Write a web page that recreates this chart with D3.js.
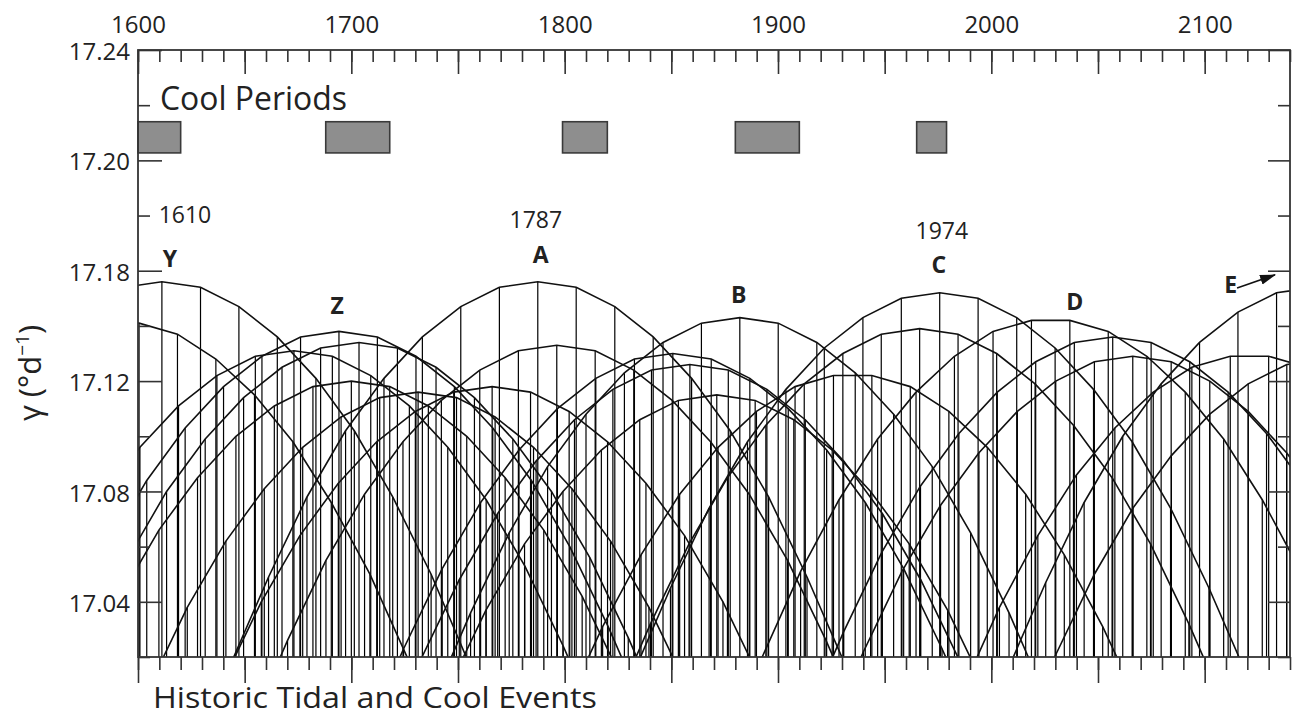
<!DOCTYPE html>
<html>
<head>
<meta charset="utf-8">
<script src="https://cdn.jsdelivr.net/npm/d3@7"></script>
<style>
    body { margin: 0; background: #fff; }
    svg { display: block; }
    text { font-family: "Open Sans", "DejaVu Sans", sans-serif; fill: #222; }
</style>
</head>
<body>
<div id="chart"></div>
<script>
// each arc: [year, gamma] at the 18.03-yr events
const arcY = [[1593.2,17.154],[1611.2,17.156],[1629.3,17.154],[1647.3,17.147],[1665.3,17.136],[1683.4,17.121],[1701.4,17.102],[1719.4,17.078],[1737.4,17.050],[1755.5,17.017],[1773.5,16.980]];
const arcY2 = [[1582.4,17.141],[1600.5,17.141],[1618.5,17.137],[1636.5,17.128],[1654.6,17.115],[1672.6,17.098],[1690.6,17.076],[1708.7,17.050],[1726.7,17.019],[1744.7,16.985]];
const arcZ = [[1586.0,17.060],[1604.1,17.084],[1622.1,17.103],[1640.1,17.118],[1658.1,17.129],[1676.2,17.136],[1694.2,17.138],[1712.2,17.136],[1730.3,17.129],[1748.3,17.118],[1766.3,17.103],[1784.4,17.084],[1802.4,17.060],[1820.4,17.031],[1838.5,16.999]];
const arcP4 = [[1582.9,17.077],[1600.9,17.096],[1619.0,17.111],[1637.0,17.122],[1655.0,17.129],[1673.1,17.131],[1691.1,17.129],[1709.1,17.122],[1727.2,17.111],[1745.2,17.096],[1763.2,17.077],[1781.3,17.053],[1799.3,17.024],[1817.3,16.992]];
const arcP5 = [[1595.4,17.056],[1613.4,17.080],[1631.5,17.099],[1649.5,17.114],[1667.5,17.125],[1685.6,17.132],[1703.6,17.134],[1721.6,17.132],[1739.7,17.125],[1757.7,17.114],[1775.7,17.099],[1793.8,17.080],[1811.8,17.056],[1829.8,17.027],[1847.8,16.995]];
const arcL1 = [[1591.8,17.042],[1609.8,17.066],[1627.9,17.085],[1645.9,17.100],[1663.9,17.111],[1682.0,17.118],[1700.0,17.120],[1718.0,17.118],[1736.1,17.111],[1754.1,17.100],[1772.1,17.085],[1790.2,17.066],[1808.2,17.042],[1826.2,17.013]];
const arcP6 = [[1605.1,17.009],[1623.1,17.038],[1641.2,17.062],[1659.2,17.081],[1677.2,17.096],[1695.2,17.107],[1713.3,17.114],[1731.3,17.116],[1749.3,17.114],[1767.4,17.107],[1785.4,17.096],[1803.4,17.081],[1821.5,17.062],[1839.5,17.038],[1857.5,17.009]];
const arcP7 = [[1639.8,17.011],[1657.8,17.040],[1675.9,17.064],[1693.9,17.083],[1711.9,17.098],[1730.0,17.109],[1748.0,17.116],[1766.0,17.118],[1784.0,17.116],[1802.1,17.109],[1820.1,17.098],[1838.1,17.083],[1856.2,17.064],[1874.2,17.040],[1892.2,17.011]];
const arcA = [[1643.2,17.017],[1661.2,17.049],[1679.2,17.078],[1697.3,17.102],[1715.3,17.121],[1733.3,17.136],[1751.3,17.147],[1769.4,17.154],[1787.4,17.156],[1805.4,17.154],[1823.5,17.147],[1841.5,17.136],[1859.5,17.121],[1877.6,17.102],[1895.6,17.078],[1913.6,17.049],[1931.6,17.017]];
const arcP8 = [[1652.1,16.994],[1670.1,17.026],[1688.1,17.055],[1706.2,17.079],[1724.2,17.098],[1742.2,17.113],[1760.2,17.124],[1778.3,17.131],[1796.3,17.133],[1814.3,17.131],[1832.4,17.124],[1850.4,17.113],[1868.4,17.098],[1886.5,17.079],[1904.5,17.055],[1922.5,17.026],[1940.5,16.994]];
const arcP9 = [[1706.5,16.991],[1724.5,17.023],[1742.6,17.052],[1760.6,17.076],[1778.6,17.095],[1796.6,17.110],[1814.6,17.121],[1832.7,17.128],[1850.7,17.130],[1868.7,17.128],[1886.8,17.121],[1904.8,17.110],[1922.8,17.095],[1940.9,17.076],[1958.9,17.052],[1976.9,17.023],[1994.9,16.991]];
const arcP10 = [[1714.5,16.987],[1732.5,17.019],[1750.6,17.048],[1768.6,17.072],[1786.6,17.091],[1804.6,17.106],[1822.6,17.117],[1840.7,17.124],[1858.7,17.126],[1876.7,17.124],[1894.8,17.117],[1912.8,17.106],[1930.8,17.091],[1948.9,17.072],[1966.9,17.048],[1984.9,17.019],[2002.9,16.987]];
const arcP11 = [[1745.1,17.008],[1763.1,17.037],[1781.2,17.061],[1799.2,17.080],[1817.2,17.095],[1835.2,17.106],[1853.3,17.113],[1871.3,17.115],[1889.3,17.113],[1907.4,17.106],[1925.4,17.095],[1943.4,17.080],[1961.5,17.061],[1979.5,17.037],[1997.5,17.008]];
const arcB = [[1737.9,17.004],[1755.9,17.036],[1774.0,17.065],[1792.0,17.089],[1810.0,17.108],[1828.0,17.123],[1846.1,17.134],[1864.1,17.141],[1882.1,17.143],[1900.1,17.141],[1918.2,17.134],[1936.2,17.123],[1954.2,17.108],[1972.3,17.089],[1990.3,17.065],[2008.3,17.036],[2026.3,17.004]];
const arcP13 = [[1799.8,17.001],[1817.8,17.031],[1835.8,17.057],[1853.9,17.079],[1871.9,17.096],[1889.9,17.109],[1908.0,17.118],[1926.0,17.122],[1944.0,17.122],[1962.0,17.118],[1980.1,17.109],[1998.1,17.096],[2016.1,17.079],[2034.2,17.057],[2052.2,17.031],[2070.2,17.001]];
const arcP14 = [[1822.2,17.000],[1840.2,17.032],[1858.3,17.061],[1876.3,17.085],[1894.3,17.104],[1912.3,17.119],[1930.4,17.130],[1948.4,17.137],[1966.4,17.139],[1984.4,17.137],[2002.5,17.130],[2020.5,17.119],[2038.5,17.104],[2056.6,17.085],[2074.6,17.061],[2092.6,17.032],[2110.6,17.000]];
const arcC = [[1831.6,17.013],[1849.6,17.045],[1867.7,17.074],[1885.7,17.098],[1903.7,17.117],[1921.7,17.132],[1939.8,17.143],[1957.8,17.150],[1975.8,17.152],[1993.8,17.150],[2011.9,17.143],[2029.9,17.132],[2047.9,17.117],[2066.0,17.098],[2084.0,17.074],[2102.0,17.045],[2120.0,17.013]];
const arcD = [[1874.6,16.985],[1892.6,17.020],[1910.6,17.051],[1928.6,17.077],[1946.7,17.099],[1964.7,17.116],[1982.7,17.129],[2000.8,17.138],[2018.8,17.142],[2036.8,17.142],[2054.8,17.138],[2072.9,17.129],[2090.9,17.116],[2108.9,17.099],[2127.0,17.077],[2145.0,17.051]];
const arcP17 = [[1912.7,16.997],[1930.7,17.029],[1948.7,17.058],[1966.8,17.082],[1984.8,17.101],[2002.8,17.116],[2020.8,17.127],[2038.9,17.134],[2056.9,17.136],[2074.9,17.134],[2093.0,17.127],[2111.0,17.116],[2129.0,17.101],[2147.1,17.082]];
const arcP18 = [[1922.1,16.990],[1940.1,17.022],[1958.1,17.051],[1976.2,17.075],[1994.2,17.094],[2012.2,17.109],[2030.2,17.120],[2048.3,17.127],[2066.3,17.129],[2084.3,17.127],[2102.4,17.120],[2120.4,17.109],[2138.4,17.094],[2156.5,17.075]];
const arcP19 = [[1985.8,17.007],[2003.8,17.038],[2021.8,17.064],[2039.9,17.086],[2057.9,17.103],[2075.9,17.116],[2094.0,17.125],[2112.0,17.129],[2130.0,17.129],[2148.0,17.125]];
const arcE = [[2007.5,17.015],[2025.5,17.047],[2043.5,17.076],[2061.6,17.100],[2079.6,17.119],[2097.6,17.134],[2115.6,17.145],[2133.7,17.152],[2151.7,17.154]];
const arcP21 = [[2012.3,16.989],[2030.3,17.021],[2048.3,17.050],[2066.4,17.074],[2084.4,17.093],[2102.4,17.108],[2120.4,17.119],[2138.5,17.126],[2156.5,17.128]];

const arcs = [arcY, arcY2, arcZ, arcP4, arcP5, arcL1, arcP6, arcP7, arcA, arcP8, arcP9, arcP10,
    arcP11, arcB, arcP13, arcP14, arcC, arcD, arcP17, arcP18, arcP19, arcE, arcP21];

// cool periods, start and end year
const coolPeriods = [[1600, 1620], [1688, 1718], [1799, 1820], [1880, 1910], [1965, 1979]];

const xTickLabels = [1600, 1700, 1800, 1900, 2000, 2100];
const yTickValues = [17.24, 17.20, 17.16, 17.12, 17.08, 17.04];
const yTickLabels = ["17.24", "17.20", "17.18", "17.12", "17.08", "17.04"];

// peak letters and years written on the chart: [text, year, gamma]
const peakLetters = [["Y", 1615, 17.1613], ["Z", 1693.3, 17.1443], ["A", 1788.8, 17.1628], ["B", 1881.6, 17.1483],
    ["C", 1975.4, 17.1592], ["D", 2039.1, 17.1458], ["E", 2112.2, 17.1519]];
const peakYears = [["1610", 1622, 17.1773], ["1787", 1786.5, 17.1755], ["1974", 1976.8, 17.1715]];

const width = 1293;
const height = 716;
const margin = { top: 50, right: 3, bottom: 59, left: 138 };

const x = d3.scaleLinear()
    .domain([1600, 2140])
    .range([margin.left, width - margin.right]);

const y = d3.scaleLinear()
    .domain([17.02, 17.24])
    .range([height - margin.bottom, margin.top]);

const svg = d3.select("#chart")
    .append("svg")
    .attr("width", width)
    .attr("height", height);

svg.append("clipPath")
    .attr("id", "plotClip")
    .append("rect")
    .attr("x", x(1600))
    .attr("y", y(17.24))
    .attr("width", x(2140) - x(1600))
    .attr("height", y(17.02) - y(17.24));

const plot = svg.append("g")
    .attr("clip-path", "url(#plotClip)");

// vertical stems from every event down to the base
const events = arcs.flat().filter(d => d[0] >= 1600 && d[0] <= 2140 && d[1] > 17.02);

plot.append("g")
    .selectAll("line")
    .data(events)
    .join("line")
    .attr("x1", d => x(d[0]))
    .attr("x2", d => x(d[0]))
    .attr("y1", d => y(d[1]))
    .attr("y2", y(17.02))
    .attr("stroke", "#000")
    .attr("stroke-width", 1.2);

const line = d3.line()
    .x(d => x(d[0]))
    .y(d => y(d[1]));

plot.append("g")
    .selectAll("path")
    .data(arcs)
    .join("path")
    .attr("d", line)
    .attr("fill", "none")
    .attr("stroke", "#111")
    .attr("stroke-width", 1.6);

// cool periods
svg.append("g")
    .selectAll("rect")
    .data(coolPeriods)
    .join("rect")
    .attr("x", d => x(d[0]))
    .attr("y", y(17.214))
    .attr("width", d => x(d[1]) - x(d[0]))
    .attr("height", y(17.2027) - y(17.214))
    .attr("fill", "#8e8e8e")
    .attr("stroke", "#3a3a3a")
    .attr("stroke-width", 1.6);

svg.append("text")
    .attr("x", x(1610.3))
    .attr("y", y(17.2183))
    .attr("font-size", 32)
    .attr("textLength", 187)
    .attr("lengthAdjust", "spacingAndGlyphs")
    .text("Cool Periods");

// axes: major and minor ticks on all four sides
function styleAxis(g) {
    g.select(".domain").remove();
    g.selectAll("line").attr("stroke", "#333").attr("stroke-width", 1.6);
    g.selectAll("text").attr("font-size", 24).attr("fill", "#222");
}

const decades = d3.range(1600, 2141, 10);
const fifties = d3.range(1600, 2141, 50);
const yMinor = [17.22, 17.18, 17.14, 17.10, 17.06, 17.02];

svg.append("g")
    .attr("transform", `translate(0,${y(17.24)})`)
    .call(d3.axisTop(x).tickValues(decades).tickSize(-12).tickFormat(""))
    .call(styleAxis);

svg.append("g")
    .attr("transform", `translate(0,${y(17.24)})`)
    .call(d3.axisTop(x).tickValues(fifties).tickSize(-24).tickPadding(17)
        .tickFormat(d => xTickLabels.includes(d) ? d : ""))
    .call(styleAxis);

svg.append("g")
    .attr("transform", `translate(0,${y(17.02)})`)
    .call(d3.axisBottom(x).tickValues(decades).tickSize(13).tickFormat(""))
    .call(styleAxis);

svg.append("g")
    .attr("transform", `translate(0,${y(17.02)})`)
    .call(d3.axisBottom(x).tickValues(fifties).tickSize(26).tickFormat(""))
    .call(styleAxis);

svg.append("g")
    .attr("transform", `translate(${x(1600)},0)`)
    .call(d3.axisLeft(y).tickValues(yMinor).tickSize(-12).tickFormat(""))
    .call(styleAxis);

svg.append("g")
    .attr("transform", `translate(${x(1600)},0)`)
    .call(d3.axisLeft(y).tickValues(yTickValues).tickSize(-24).tickPadding(8)
        .tickFormat((d, i) => yTickLabels[i]))
    .call(styleAxis)
    .selectAll("text")
    .attr("dy", "0.4em");

svg.append("g")
    .attr("transform", `translate(${x(2140)},0)`)
    .call(d3.axisRight(y).tickValues(yMinor).tickSize(-12).tickFormat(""))
    .call(styleAxis);

svg.append("g")
    .attr("transform", `translate(${x(2140)},0)`)
    .call(d3.axisRight(y).tickValues(yTickValues).tickSize(-22).tickFormat(""))
    .call(styleAxis);

svg.append("rect")
    .attr("x", x(1600))
    .attr("y", y(17.24))
    .attr("width", x(2140) - x(1600))
    .attr("height", y(17.02) - y(17.24))
    .attr("fill", "none")
    .attr("stroke", "#333")
    .attr("stroke-width", 1.8);

// annotations
svg.append("g")
    .selectAll("text")
    .data(peakLetters)
    .join("text")
    .attr("x", d => x(d[1]))
    .attr("y", d => y(d[2]))
    .attr("text-anchor", "middle")
    .attr("font-size", 23)
    .attr("font-weight", "bold")
    .text(d => d[0]);

svg.append("g")
    .selectAll("text")
    .data(peakYears)
    .join("text")
    .attr("x", d => x(d[1]))
    .attr("y", d => y(d[2]))
    .attr("text-anchor", "middle")
    .attr("font-size", 23)
    .text(d => d[0]);

svg.append("defs")
    .append("marker")
    .attr("id", "arrowHead")
    .attr("markerUnits", "userSpaceOnUse")
    .attr("viewBox", "0 0 16 16")
    .attr("refX", 15)
    .attr("refY", 8)
    .attr("markerWidth", 16)
    .attr("markerHeight", 16)
    .attr("orient", "auto")
    .append("path")
    .attr("d", "M0,3 L16,8 L0,13 Z")
    .attr("fill", "#111");

svg.append("line")
    .attr("x1", x(2115.2))
    .attr("y1", y(17.1537))
    .attr("x2", x(2133.0))
    .attr("y2", y(17.1585))
    .attr("stroke", "#111")
    .attr("stroke-width", 1.6)
    .attr("marker-end", "url(#arrowHead)");

svg.append("text")
    .attr("transform", "translate(41,373) rotate(-90)")
    .attr("text-anchor", "middle")
    .attr("font-size", 31)
    .call(t => {
        t.append("tspan").text("\u03b3  (\u00b0d");
        t.append("tspan").attr("dy", -12).attr("font-size", 19).text("\u22121");
        t.append("tspan").attr("dy", 12).text(")");
    });

svg.append("text")
    .attr("x", 153)
    .attr("y", 708)
    .attr("font-size", 30)
    .attr("textLength", 444)
    .attr("lengthAdjust", "spacingAndGlyphs")
    .text("Historic Tidal and Cool Events");
</script>
</body>
</html>
